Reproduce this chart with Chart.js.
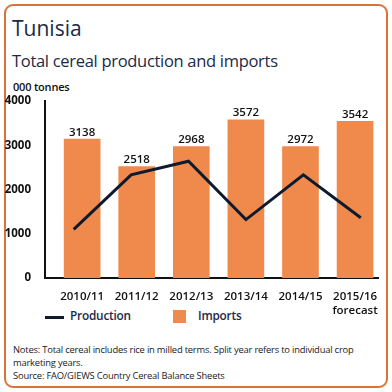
<!DOCTYPE html>
<html>
<head>
<meta charset="utf-8">
<script src="https://cdn.jsdelivr.net/npm/chart.js@4"></script>
<style>
  html, body { margin: 0; padding: 0; background: #fff; }
  body { width: 392px; height: 392px; position: relative; overflow: hidden; font-family: "Open Sans", sans-serif; color: #1b2a47; }
  .frame { position: absolute; left: 4px; top: 4px; width: 380px; height: 380px; border: 2px solid #d9733a; border-radius: 9px; }
  .t { position: absolute; white-space: nowrap; }
  #title { left: 12px; top: 14px; font-size: 21px; }
  #subtitle { left: 12px; top: 49px; font-size: 16.5px; letter-spacing: -0.3px; }
  #unit { left: 13px; top: 79px; font-size: 11px; font-weight: 600; color: #111; letter-spacing: -0.2px; }
  #legend { left: 45px; top: 307px; font-size: 11.8px; font-weight: 600; color: #1b2a47; letter-spacing: -0.2px; }
  .lg-line { position: absolute; left: 0; top: 9px; width: 19px; height: 3px; background: #0e1a2e; }
  .lg-box { position: absolute; left: 128px; top: 3px; width: 13px; height: 13px; background: #ef8a4c; }
  #notes { left: 13px; top: 343px; font-size: 9.4px; line-height: 13px; color: #222; letter-spacing: -0.2px; }
  canvas { position: absolute; left: 0; top: 0; }
</style>
</head>
<body>
<div class="frame"></div>
<div class="t" id="title">Tunisia</div>
<div class="t" id="subtitle">Total cereal production and imports</div>
<div class="t" id="unit">000 tonnes</div>
<div class="t" id="legend">
  <span class="lg-line"></span><span style="position:absolute;left:25px;top:0">Production</span>
  <span class="lg-box"></span><span style="position:absolute;left:153px;top:0">Imports</span>
</div>
<div class="t" id="notes">Notes: Total cereal includes rice in milled terms. Split year refers to individual crop<br>marketing years.<br>Source: FAO/GIEWS Country Cereal Balance Sheets</div>
<canvas id="chart" width="392" height="392"></canvas>
<script>
const years = ['2010/11', '2011/12', '2012/13', '2013/14', '2014/15', ['2015/16', 'forecast']];
const imports = [3138, 2518, 2968, 3572, 2972, 3542];
const production = [1100, 2330, 2640, 1320, 2330, 1360];
const yTicks = [0, 1000, 2000, 3000, 4000];

const barColor = '#ef8a4c';
const lineColor = '#0e1a2e';

// numbers on top of the bars
const barLabels = {
    id: 'barLabels',
    afterDatasetsDraw(chart) {
        const ctx = chart.ctx;
        const meta = chart.getDatasetMeta(1);
        ctx.save();
        ctx.font = '600 11.5px "Open Sans"';
        ctx.fillStyle = '#111';
        ctx.textAlign = 'center';
        ctx.textBaseline = 'bottom';
        meta.data.forEach((bar, i) => {
            ctx.fillText(imports[i], bar.x, bar.y - 1);
        });
        ctx.restore();
    }
};

new Chart(document.getElementById('chart'), {
    data: {
        datasets: [{
            type: 'line',
            label: 'Production',
            data: production.map((v, i) => ({x: i, y: v})),
            xAxisID: 'x2',
            borderColor: lineColor,
            borderWidth: 3,
            pointRadius: 0,
            tension: 0,
            order: 0
        }, {
            type: 'bar',
            label: 'Imports',
            data: imports.map((v, i) => ({x: i, y: v})),
            backgroundColor: barColor,
            barThickness: 36,
            grouped: false,
            order: 1
        }]
    },
    options: {
        responsive: false,
        animation: false,
        layout: { padding: { top: 101, right: 14, bottom: 74, left: 0 } },
        plugins: { legend: { display: false }, tooltip: { enabled: false } },
        scales: {
            x: {
                type: 'linear',
                offset: false,
                min: -0.68,
                max: 5.42,
                afterBuildTicks: (s) => { s.ticks = years.map((_, i) => ({value: i})); },
                afterFit: (s) => { s.height = 40; },
                grid: { display: false },
                border: { display: true, color: '#111', width: 2 },
                ticks: {
                    callback: (v) => years[v],
                    color: '#111',
                    font: { family: 'Open Sans', size: 11.5, weight: '600' },
                    padding: 4,
                    maxRotation: 0,
                    autoSkip: false
                }
            },
            x2: {
                type: 'linear',
                display: false,
                offset: false,
                min: -0.5,
                max: 5.3
            },
            y: {
                min: 0,
                max: 4000,
                afterBuildTicks: (s) => { s.ticks = yTicks.map(v => ({value: v})); },
                afterFit: (s) => { s.width = 45; },
                grid: { display: false },
                border: { display: true, color: '#111', width: 2 },
                ticks: {
                    callback: (v) => String(v),
                    color: '#111',
                    font: { family: 'Open Sans', size: 11.5, weight: 'bold' },
                    padding: 6
                }
            }
        }
    },
    plugins: [barLabels]
});
</script>
</body>
</html>
